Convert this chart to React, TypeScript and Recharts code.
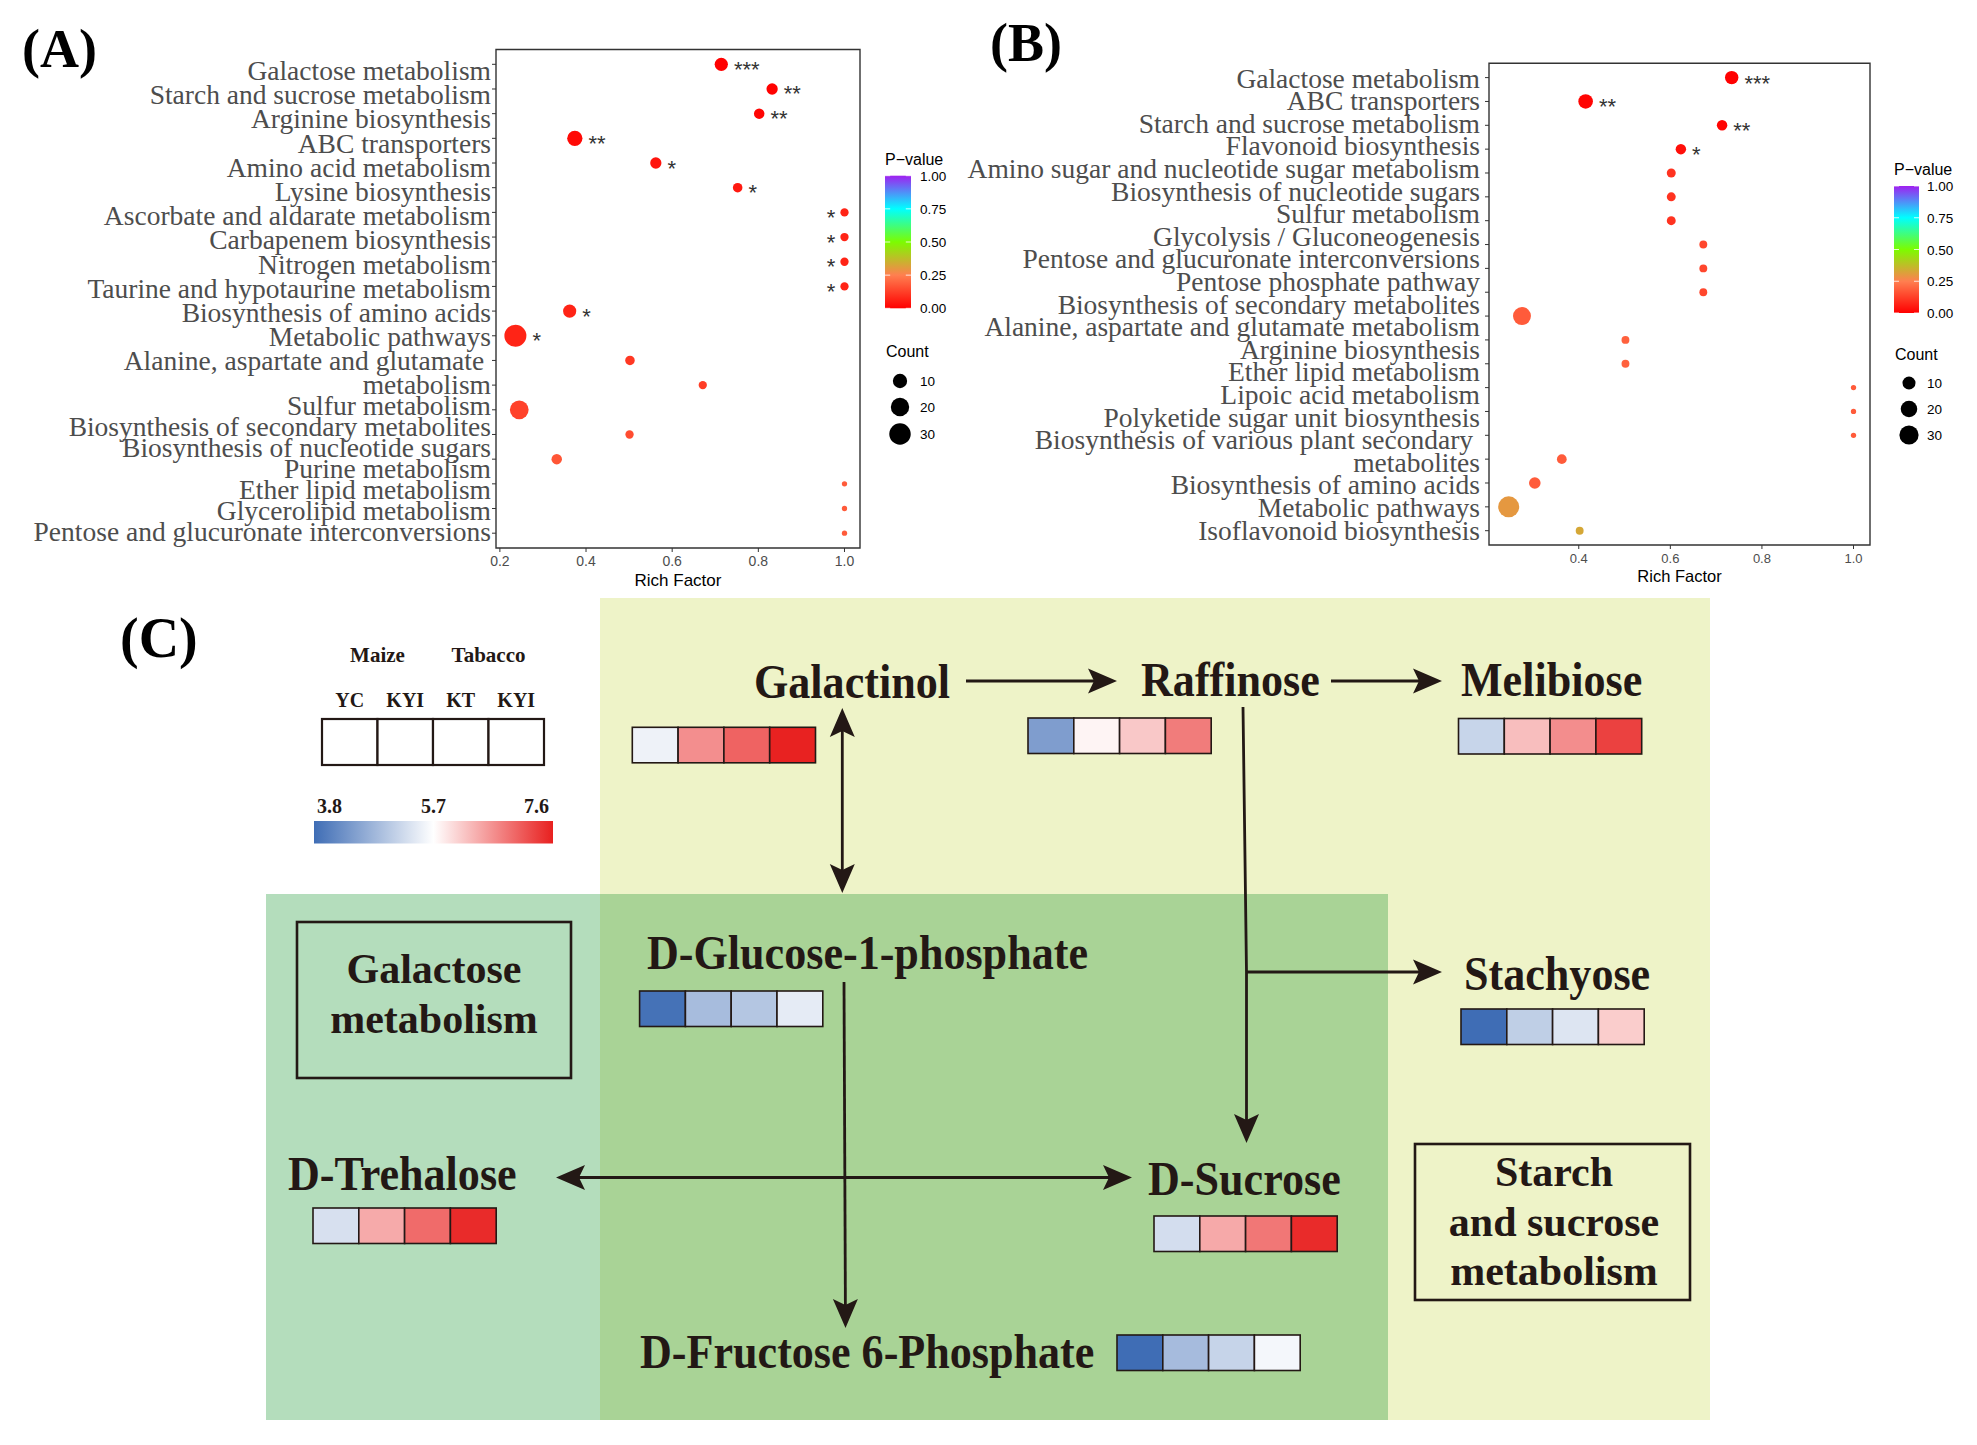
import React from 'react';
import { ScatterChart, Scatter, XAxis, YAxis, ZAxis, ReferenceArea } from 'recharts';

const SERIF = "'Liberation Serif', 'Times New Roman', serif";
const SANS = "'Liberation Sans', Arial, sans-serif";
const INK = '#231815';

// ---------- (A) KEGG enrichment ----------
const pathwaysA = [
  'Galactose metabolism',
  'Starch and sucrose metabolism',
  'Arginine biosynthesis',
  'ABC transporters',
  'Amino acid metabolism',
  'Lysine biosynthesis',
  'Ascorbate and aldarate metabolism',
  'Carbapenem biosynthesis',
  'Nitrogen metabolism',
  'Taurine and hypotaurine metabolism',
  'Biosynthesis of amino acids',
  'Metabolic pathways',
  'Alanine, aspartate and glutamate\nmetabolism',
  'Sulfur metabolism',
  'Biosynthesis of secondary metabolites',
  'Biosynthesis of nucleotide sugars',
  'Purine metabolism',
  'Ether lipid metabolism',
  'Glycerolipid metabolism',
  'Pentose and glucuronate interconversions',
];
const richA = [0.714, 0.832, 0.802, 0.374, 0.562, 0.752, 1.0, 1.0, 1.0, 1.0, 0.362, 0.236, 0.502, 0.671, 0.245, 0.501, 0.332, 1.0, 1.0, 1.0];
const countA = [8, 5, 4, 12, 5, 3, 2, 2, 2, 2, 8, 32, 3, 2, 21, 2, 4, 1, 1, 1];
const pvalueA = [0.002, 0.003, 0.01, 0.02, 0.04, 0.05, 0.07, 0.07, 0.07, 0.07, 0.07, 0.07, 0.11, 0.12, 0.13, 0.15, 0.17, 0.18, 0.18, 0.18];
const starsA = ['***', '**', '**', '**', '*', '*', '*', '*', '*', '*', '*', '*', '', '', '', '', '', '', '', ''];

// ---------- (B) KEGG enrichment ----------
const pathwaysB = [
  'Galactose metabolism',
  'ABC transporters',
  'Starch and sucrose metabolism',
  'Flavonoid biosynthesis',
  'Amino sugar and nucleotide sugar metabolism',
  'Biosynthesis of nucleotide sugars',
  'Sulfur metabolism',
  'Glycolysis / Gluconeogenesis',
  'Pentose and glucuronate interconversions',
  'Pentose phosphate pathway',
  'Biosynthesis of secondary metabolites',
  'Alanine, aspartate and glutamate metabolism',
  'Arginine biosynthesis',
  'Ether lipid metabolism',
  'Lipoic acid metabolism',
  'Polyketide sugar unit biosynthesis',
  'Biosynthesis of various plant secondary\nmetabolites',
  'Biosynthesis of amino acids',
  'Metabolic pathways',
  'Isoflavonoid biosynthesis',
];
const richB = [0.734, 0.415, 0.713, 0.623, 0.602, 0.602, 0.602, 0.672, 0.672, 0.672, 0.276, 0.502, 0.502, 1.0, 1.0, 1.0, 0.363, 0.304, 0.247, 0.402];
const countB = [11, 14, 5, 5, 3, 3, 3, 2, 2, 2, 25, 2, 2, 1, 1, 1, 4, 7, 38, 2];
const pvalueB = [0.002, 0.01, 0.01, 0.03, 0.1, 0.1, 0.1, 0.14, 0.14, 0.14, 0.18, 0.19, 0.19, 0.18, 0.18, 0.18, 0.18, 0.18, 0.3, 0.33];
const starsB = ['***', '**', '**', '*', '', '', '', '', '', '', '', '', '', '', '', '', '', '', '', ''];

const richTicksA = [0.2, 0.4, 0.6, 0.8, 1.0];
const richTicksB = [0.4, 0.6, 0.8, 1.0];
const pvalueTicks = [1, 0.75, 0.5, 0.25, 0];
const countTicks = [10, 20, 30];

// ---------- (C) pathway heat values: Maize YC, Maize KYI, Tabacco KT, Tabacco KYI ----------
const groupLabels = ['Maize', 'Tabacco'];
const sampleLabels = ['YC', 'KYI', 'KT', 'KYI'];
const heatTicks = [3.8, 5.7, 7.6];
const galactinol = [5.53, 6.66, 7.03, 7.58];
const raffinose = [4.43, 5.79, 6.17, 6.82];
const melibiose = [5.15, 6.25, 6.67, 7.32];
const glucose1p = [3.86, 4.83, 4.96, 5.44];
const stachyose = [3.8, 5.07, 5.36, 6.13];
const trehalose = [5.3, 6.42, 6.96, 7.51];
const sucrose = [5.26, 6.43, 6.86, 7.51];
const fructose6p = [3.8, 4.82, 5.14, 5.59];

type Stop = [number, number[]];
const pStops: Stop[] = [
  [0, [255, 0, 0]],
  [0.25, [255, 127, 80]],
  [0.5, [124, 252, 0]],
  [0.75, [0, 255, 255]],
  [1, [160, 32, 240]],
];
const heatStops: Stop[] = [
  [3.8, [63, 109, 181]],
  [5.7, [255, 255, 255]],
  [7.6, [232, 32, 31]],
];

function ramp(stops: Stop[], v: number) {
  const rgb = (c: number[]) => `rgb(${c.map((x) => Math.round(x)).join(',')})`;
  if (v <= stops[0][0]) return rgb(stops[0][1]);
  for (let i = 1; i < stops.length; i++) {
    const [v0, c0] = stops[i - 1];
    const [v1, c1] = stops[i];
    if (v <= v1) {
      const t = (v - v0) / (v1 - v0);
      return rgb(c0.map((c, j) => c + (c1[j] - c) * t));
    }
  }
  return rgb(stops[stops.length - 1][1]);
}

// ggplot-like area size: diameter grows with sqrt of the rescaled count
const dotDiameter = (s: number, dMin: number, dMax: number) =>
  dMin + (dMax - dMin) * Math.sqrt(Math.max(0, Math.min(1, s)));

type PanelCfg = {
  names: string[];
  rich: number[];
  count: number[];
  pvalue: number[];
  stars: string[];
  left: number;
  width: number;
  height: number;
  plotLeft: number;
  plotRight: number;
  plotTop: number;
  plotBottom: number;
  xDomain: [number, number];
  xTicks: number[];
  countMax: number;
  dMin: number;
  dMax: number;
  lineBaseline: (k: number) => number;
  yTickGap: number;
  xTickFont: number;
  xTickGap: number;
  titleFont: number;
  titleOffset: number;
  starDy: number;
  starsLeftAtEdge: boolean;
};

function makeCategoryTick(cfg: PanelCfg) {
  const lineStart: number[] = [];
  let k = 0;
  cfg.names.forEach((n) => {
    lineStart.push(k);
    k += n.split('\n').length;
  });
  return (props: any) => {
    const i = props.payload.value;
    const parts = cfg.names[i].split('\n');
    return (
      <g>
        {parts.map((t, j) => (
          <text
            key={j}
            x={props.x}
            y={cfg.lineBaseline(lineStart[i] + j)}
            textAnchor="end"
            fontFamily={SERIF}
            fontSize={27.5}
            fill="#4D4D4D"
          >
            {j < parts.length - 1 ? t + '\u00a0' : t}
          </text>
        ))}
      </g>
    );
  };
}

function makeDot(cfg: PanelCfg) {
  return (props: any) => {
    const { cx, cy, payload } = props;
    if (cx == null || cy == null) return <g />;
    const s = Number.isFinite(props.size) ? props.size : (payload.count - 1) / (cfg.countMax - 1);
    const r = dotDiameter(s, cfg.dMin, cfg.dMax) / 2;
    const left = cfg.starsLeftAtEdge && payload.rich >= 0.99;
    return (
      <g>
        <circle cx={cx} cy={cy} r={r} fill={ramp(pStops, payload.p)} />
        {payload.sig ? (
          <text
            x={left ? cx - r - 5 : cx + r + 6}
            y={cy + cfg.starDy}
            textAnchor={left ? 'end' : 'start'}
            fontFamily={SANS}
            fontSize={22}
            fill="#333"
          >
            {payload.sig}
          </text>
        ) : null}
      </g>
    );
  };
}

function EnrichmentPanel({ cfg }: { cfg: PanelCfg }) {
  const rows = cfg.names.map((name, i) => ({
    idx: i,
    name,
    rich: cfg.rich[i],
    count: cfg.count[i],
    p: cfg.pvalue[i],
    sig: cfg.stars[i],
  }));
  const yDomain: [number, number] = [-0.6, rows.length - 1 + 0.6];
  return (
    <div style={{ position: 'absolute', left: cfg.left, top: 0 }}>
      <ScatterChart
        width={cfg.width}
        height={cfg.height}
        margin={{ top: cfg.plotTop, right: cfg.left + cfg.width - cfg.plotRight, bottom: 0, left: 0 }}
      >
        <XAxis
          type="number"
          dataKey="rich"
          domain={cfg.xDomain}
          allowDataOverflow
          ticks={cfg.xTicks}
          interval={0}
          tickFormatter={(v: number) => v.toFixed(1)}
          height={cfg.height - cfg.plotBottom}
          tickSize={4}
          tickMargin={cfg.xTickGap}
          axisLine={false}
          tickLine={{ stroke: '#333' }}
          tick={{ fill: '#4D4D4D', fontSize: cfg.xTickFont, fontFamily: SANS }}
          label={{
            value: 'Rich Factor',
            position: 'insideBottom',
            offset: cfg.titleOffset,
            fill: '#000',
            fontSize: cfg.titleFont,
            fontFamily: SANS,
          }}
        />
        <YAxis
          type="number"
          dataKey="idx"
          domain={yDomain}
          allowDataOverflow
          reversed
          ticks={rows.map((r) => r.idx)}
          interval={0}
          width={cfg.plotLeft - cfg.left}
          tickSize={4}
          tickMargin={cfg.yTickGap}
          axisLine={false}
          tickLine={{ stroke: '#333' }}
          tick={makeCategoryTick(cfg)}
        />
        <ZAxis type="number" dataKey="count" domain={[1, cfg.countMax]} range={[0, 1]} />
        <ReferenceArea
          x1={cfg.xDomain[0]}
          x2={cfg.xDomain[1]}
          y1={yDomain[0]}
          y2={yDomain[1]}
          fill="none"
          stroke="#333"
          strokeWidth={1.4}
          ifOverflow="visible"
        />
        <Scatter data={rows} shape={makeDot(cfg)} isAnimationActive={false} />
      </ScatterChart>
    </div>
  );
}

const panelA: PanelCfg = {
  names: pathwaysA,
  rich: richA,
  count: countA,
  pvalue: pvalueA,
  stars: starsA,
  left: 0,
  width: 870,
  height: 600,
  plotLeft: 496,
  plotRight: 860,
  plotTop: 49.5,
  plotBottom: 548,
  xDomain: [0.191, 1.036],
  xTicks: richTicksA,
  countMax: 32,
  dMin: 5.3,
  dMax: 22,
  lineBaseline: (k) => (k <= 12 ? 80 + 24.2 * k : 394 + 21 * (k - 13)),
  yTickGap: 1,
  xTickFont: 14,
  xTickGap: 4,
  titleFont: 17,
  titleOffset: 14,
  starDy: 12.5,
  starsLeftAtEdge: true,
};

const panelB: PanelCfg = {
  names: pathwaysB,
  rich: richB,
  count: countB,
  pvalue: pvalueB,
  stars: starsB,
  left: 940,
  width: 940,
  height: 600,
  plotLeft: 1489,
  plotRight: 1870,
  plotTop: 63.3,
  plotBottom: 545,
  xDomain: [0.204, 1.036],
  xTicks: richTicksB,
  countMax: 38,
  dMin: 5.3,
  dMax: 21,
  lineBaseline: (k) => 87.5 + 22.6 * k,
  yTickGap: 5,
  xTickFont: 13,
  xTickGap: 5,
  titleFont: 16.5,
  titleOffset: 18,
  starDy: 13,
  starsLeftAtEdge: false,
};

function ColorLegend({ x, top, w, h, titleY, labelX }: { x: number; top: number; w: number; h: number; titleY: number; labelX: number }) {
  return (
    <g>
      <text x={x} y={titleY} fontFamily={SANS} fontSize={16} fill="#000">
        P−value
      </text>
      <rect x={x} y={top} width={w} height={h} fill="url(#pgrad)" />
      {pvalueTicks.map((v) => {
        const yy = top + (1 - v) * h;
        return (
          <g key={v}>
            <line x1={x} x2={x + w / 5} y1={yy} y2={yy} stroke="#fff" strokeOpacity={0.8} />
            <line x1={x + w - w / 5} x2={x + w} y1={yy} y2={yy} stroke="#fff" strokeOpacity={0.8} />
            <text x={labelX} y={yy + 5} fontFamily={SANS} fontSize={13.5} fill="#000">
              {v.toFixed(2)}
            </text>
          </g>
        );
      })}
    </g>
  );
}

function CountLegend({ x, titleY, cx, cys, labelX, cfg }: { x: number; titleY: number; cx: number; cys: number[]; labelX: number; cfg: PanelCfg }) {
  return (
    <g>
      <text x={x} y={titleY} fontFamily={SANS} fontSize={16} fill="#000">
        Count
      </text>
      {countTicks.map((c, i) => (
        <g key={c}>
          <circle cx={cx} cy={cys[i]} r={dotDiameter((c - 1) / (cfg.countMax - 1), cfg.dMin, cfg.dMax) / 2} fill="#000" />
          <text x={labelX} y={cys[i] + 5} fontFamily={SANS} fontSize={13.5} fill="#000">
            {c}
          </text>
        </g>
      ))}
    </g>
  );
}

const CELL_W = 45.8;
const CELL_H = 35.5;

function HeatCells({ x, y, values }: { x: number; y: number; values: number[] }) {
  return (
    <g>
      {values.map((v, i) => (
        <rect key={i} x={x + i * CELL_W} y={y} width={CELL_W} height={CELL_H} fill={ramp(heatStops, v)} stroke={INK} strokeWidth={1.6} />
      ))}
    </g>
  );
}

function NodeLabel({ x, y, text }: { x: number; y: number; text: string }) {
  return (
    <text transform={`translate(${x} ${y}) scale(0.9 1)`} fontFamily={SERIF} fontWeight="bold" fontSize={49} fill={INK}>
      {text}
    </text>
  );
}

type Pt = [number, number];
function Arrow({ pts, start, end }: { pts: Pt[]; start?: boolean; end?: boolean }) {
  const L = 29;
  const W = 12.5;
  const N = 6;
  const unit = (a: Pt, b: Pt): Pt => {
    const dx = b[0] - a[0];
    const dy = b[1] - a[1];
    const len = Math.hypot(dx, dy);
    return [dx / len, dy / len];
  };
  const head = (tip: Pt, u: Pt) => {
    const bx = tip[0] - L * u[0];
    const by = tip[1] - L * u[1];
    const px = -u[1];
    const py = u[0];
    const nx = tip[0] - (L - N) * u[0];
    const ny = tip[1] - (L - N) * u[1];
    return `${tip[0]},${tip[1]} ${bx + W * px},${by + W * py} ${nx},${ny} ${bx - W * px},${by - W * py}`;
  };
  const line = pts.map((p) => [p[0], p[1]] as Pt);
  const heads: string[] = [];
  if (end) {
    const b = pts[pts.length - 1];
    const u = unit(pts[pts.length - 2], b);
    heads.push(head(b, u));
    line[line.length - 1] = [b[0] - u[0] * (L - N), b[1] - u[1] * (L - N)];
  }
  if (start) {
    const a = pts[0];
    const u = unit(pts[1], a);
    heads.push(head(a, u));
    line[0] = [a[0] - u[0] * (L - N), a[1] - u[1] * (L - N)];
  }
  return (
    <g>
      <polyline points={line.map((p) => p.join(',')).join(' ')} fill="none" stroke={INK} strokeWidth={2.8} />
      {heads.map((h, i) => (
        <polygon key={i} points={h} fill={INK} />
      ))}
    </g>
  );
}

const nodes = [
  { text: 'Galactinol', values: galactinol, tx: 754, ty: 698, hx: 632.3, hy: 727.3 },
  { text: 'Raffinose', values: raffinose, tx: 1141, ty: 696, hx: 1028, hy: 718 },
  { text: 'Melibiose', values: melibiose, tx: 1461, ty: 696, hx: 1458.5, hy: 718.5 },
  { text: 'D-Glucose-1-phosphate', values: glucose1p, tx: 647, ty: 969, hx: 639.6, hy: 991 },
  { text: 'Stachyose', values: stachyose, tx: 1464, ty: 990, hx: 1461, hy: 1009 },
  { text: 'D-Trehalose', values: trehalose, tx: 288, ty: 1190, hx: 313, hy: 1208 },
  { text: 'D-Sucrose', values: sucrose, tx: 1148, ty: 1195, hx: 1154, hy: 1216 },
  { text: 'D-Fructose 6-Phosphate', values: fructose6p, tx: 640, ty: 1368, hx: 1117, hy: 1335 },
];

const arrows: { pts: Pt[]; start?: boolean; end?: boolean }[] = [
  { pts: [[966, 681], [1117, 681]], end: true },
  { pts: [[1331, 681], [1442, 681]], end: true },
  { pts: [[842.3, 708], [842.3, 893]], start: true, end: true },
  { pts: [[844, 982], [845.5, 1328]], end: true },
  { pts: [[556, 1177.5], [1132, 1177.5]], start: true, end: true },
  { pts: [[1243, 707], [1246.5, 972], [1246.5, 1143]], end: true },
  { pts: [[1246.5, 972], [1442, 972]], end: true },
];

function BoxText({ cx, lines, top }: { cx: number; lines: string[]; top: number }) {
  return (
    <g>
      {lines.map((t, i) => (
        <text key={i} x={cx} y={top + i * 49.5} textAnchor="middle" fontFamily={SERIF} fontWeight="bold" fontSize={42} fill={INK}>
          {t}
        </text>
      ))}
    </g>
  );
}

function PathwayPanel() {
  const legendX = 322;
  const legendW = 55.5;
  const barX = 314;
  const barW = 239;
  return (
    <g>
      <rect x={600} y={598} width={1110} height={822} fill="#EEF3C8" />
      <rect x={266} y={894} width={334} height={526} fill="#B4DDBC" />
      <rect x={600} y={894} width={788} height={526} fill="#A9D396" />

      <rect x={297} y={922} width={274} height={156} fill="none" stroke={INK} strokeWidth={2.6} />
      <BoxText cx={434} top={983} lines={['Galactose', 'metabolism']} />
      <rect x={1415} y={1144} width={275} height={156} fill="none" stroke={INK} strokeWidth={2.6} />
      <BoxText cx={1554} top={1186} lines={['Starch', 'and sucrose', 'metabolism']} />

      {arrows.map((a, i) => (
        <Arrow key={i} {...a} />
      ))}
      {nodes.map((n) => (
        <g key={n.text}>
          <NodeLabel x={n.tx} y={n.ty} text={n.text} />
          <HeatCells x={n.hx} y={n.hy} values={n.values} />
        </g>
      ))}

      {/* colour key */}
      {groupLabels.map((g, i) => (
        <text key={g} x={legendX + legendW * (2 * i + 1)} y={662} textAnchor="middle" fontFamily={SERIF} fontWeight="bold" fontSize={21} fill={INK}>
          {g}
        </text>
      ))}
      {sampleLabels.map((s, i) => (
        <g key={i}>
          <text x={legendX + legendW * (i + 0.5)} y={707} textAnchor="middle" fontFamily={SERIF} fontWeight="bold" fontSize={20} fill={INK}>
            {s}
          </text>
          <rect x={legendX + legendW * i} y={719} width={legendW} height={46} fill="#fff" stroke={INK} strokeWidth={2.2} />
        </g>
      ))}
      {heatTicks.map((v, i) => (
        <text
          key={v}
          x={i === 0 ? barX + 3 : i === heatTicks.length - 1 ? barX + barW - 4 : barX + barW / 2}
          y={813}
          textAnchor={i === 0 ? 'start' : i === heatTicks.length - 1 ? 'end' : 'middle'}
          fontFamily={SERIF}
          fontWeight="bold"
          fontSize={20}
          fill={INK}
        >
          {v.toFixed(1)}
        </text>
      ))}
      <rect x={barX} y={821} width={barW} height={22.5} fill="url(#hgrad)" />
    </g>
  );
}

export default function App() {
  return (
    <div style={{ position: 'absolute', left: 0, top: 0, width: 1977, height: 1445, background: '#fff', overflow: 'hidden' }}>
      <svg width={1977} height={1445} style={{ position: 'absolute', left: 0, top: 0 }}>
        <defs>
          <linearGradient id="pgrad" x1="0" y1="1" x2="0" y2="0">
            {pStops.map(([v]) => (
              <stop key={v} offset={v} stopColor={ramp(pStops, v)} />
            ))}
          </linearGradient>
          <linearGradient id="hgrad" x1="0" y1="0" x2="1" y2="0">
            {heatStops.map(([v]) => (
              <stop key={v} offset={(v - 3.8) / 3.8} stopColor={ramp(heatStops, v)} />
            ))}
          </linearGradient>
        </defs>
        <text x={22} y={67} fontFamily={SERIF} fontWeight="bold" fontSize={54} fill="#000">
          (A)
        </text>
        <text x={990} y={61} fontFamily={SERIF} fontWeight="bold" fontSize={54} fill="#000">
          (B)
        </text>
        <text x={120} y={657} fontFamily={SERIF} fontWeight="bold" fontSize={56} fill="#000">
          (C)
        </text>
        <ColorLegend x={885} top={175.7} w={26} h={132.6} titleY={165} labelX={920} />
        <CountLegend x={886} titleY={357} cx={900} cys={[381, 407, 434]} labelX={920} cfg={panelA} />
        <ColorLegend x={1894} top={186} w={25} h={127} titleY={175} labelX={1927} />
        <CountLegend x={1895} titleY={360} cx={1909} cys={[383, 409, 435]} labelX={1927} cfg={panelB} />
        <PathwayPanel />
      </svg>
      <EnrichmentPanel cfg={panelA} />
      <EnrichmentPanel cfg={panelB} />
    </div>
  );
}
